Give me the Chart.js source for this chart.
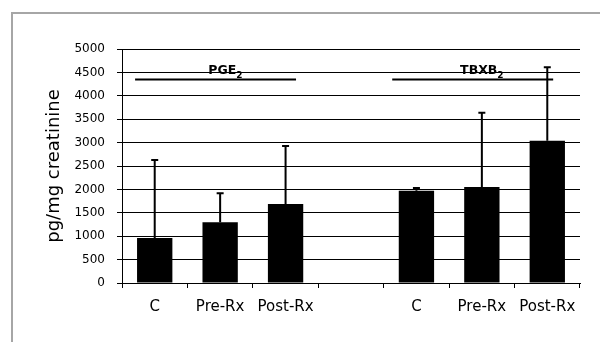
<!DOCTYPE html>
<html><head><meta charset="utf-8">
<script src="https://cdn.jsdelivr.net/npm/chart.js@4/dist/chart.umd.min.js"></script>
<style>
html,body{margin:0;padding:0;background:#fff;width:600px;height:342px;overflow:hidden}
#frame{position:absolute;left:11px;top:12px;width:640px;height:400px;border-left:2px solid #a6a6a6;border-top:2px solid #a6a6a6}
#wrap{position:absolute;left:0;top:0;width:600px;height:342px}
</style></head><body>
<div id="frame"></div>
<div id="wrap"><canvas id="c" width="600" height="342"></canvas></div>
<script>
// ---- data ----
const categories = ['C', 'Pre-Rx', 'Post-Rx', '', 'C', 'Pre-Rx', 'Post-Rx'];
const means      = [960, 1300, 1690, null, 1970, 2050, 3040];
const sdUpper    = [1670, 620, 1240, null, 60, 1590, 1570];
const yMin = 0, yMax = 5000, yStep = 500;
const groupNames = ['PGE', 'TBXB'];
const groupSubs  = ['2', '2'];
const groupLineValue = [4350, 4350];
const groupLineFrom  = [-0.30, 3.63];
const groupLineTo    = [2.16, 6.09];
const groupLabelAt   = [1.08, 5.0];
const groupLabelValue = [4465, 4465];

const FONT = 'DejaVu Sans';

const overlay = {
  id: 'overlay',
  afterDatasetsDraw(chart) {
    const ctx = chart.ctx, xs = chart.scales.x, ys = chart.scales.y;
    const meta = chart.getDatasetMeta(0);
    ctx.save();
    ctx.strokeStyle = '#000';
    ctx.fillStyle = '#000';
    ctx.lineWidth = 2;
    meta.data.forEach((bar, i) => {
      if (means[i] == null) return;
      const top = ys.getPixelForValue(means[i] + sdUpper[i]);
      const base = ys.getPixelForValue(means[i]);
      ctx.beginPath();
      ctx.moveTo(bar.x, base); ctx.lineTo(bar.x, top);
      ctx.moveTo(bar.x - 3.5, top); ctx.lineTo(bar.x + 3.5, top);
      ctx.stroke();
    });
    groupNames.forEach((name, g) => {
      const yy = ys.getPixelForValue(groupLineValue[g]);
      ctx.beginPath();
      ctx.moveTo(xs.getPixelForValue(groupLineFrom[g]), yy);
      ctx.lineTo(xs.getPixelForValue(groupLineTo[g]), yy);
      ctx.stroke();
      const bigFont = 'bold 12.5px "' + FONT + '"';
      const subFont = 'bold 9px "' + FONT + '"';
      ctx.font = bigFont;
      const w1 = ctx.measureText(name).width;
      ctx.font = subFont;
      const w2 = ctx.measureText(groupSubs[g]).width;
      const cx = xs.getPixelForValue(groupLabelAt[g]);
      const by = ys.getPixelForValue(groupLabelValue[g]);
      const x0 = cx - (w1 + w2) / 2;
      ctx.textBaseline = 'alphabetic';
      ctx.textAlign = 'left';
      ctx.font = bigFont;
      ctx.fillText(name, x0, by);
      ctx.font = subFont;
      ctx.fillText(groupSubs[g], x0 + w1, by + 4);
    });
    ctx.restore();
  }
};

new Chart(document.getElementById('c'), {
  type: 'bar',
  data: {
    labels: categories,
    datasets: [{
      data: means,
      backgroundColor: '#000',
      borderWidth: 0,
      categoryPercentage: 1,
      barPercentage: 0.54
    }]
  },
  options: {
    responsive: false,
    animation: false,
    layout: { padding: { top: 49, right: 20, left: 0, bottom: 0 } },
    plugins: { legend: { display: false }, tooltip: { enabled: false } },
    scales: {
      x: {
        offset: true,
        grid: { drawOnChartArea: false, drawTicks: true, tickLength: 5, color: '#000', offset: true },
        border: { color: '#000', width: 1 },
        ticks: { color: '#000', font: { family: FONT, size: 15 }, padding: 10, maxRotation: 0, autoSkip: false },
        afterFit(s) { s.height = 59; }
      },
      y: {
        min: yMin, max: yMax,
        ticks: { stepSize: yStep, color: '#000', font: { family: FONT, size: 12 }, padding: 12,
                 callback: (v) => String(v) },
        grid: { color: '#000', lineWidth: 1, tickLength: 5 },
        border: { color: '#000', width: 1 },
        title: { display: true, text: 'pg/mg creatinine', color: '#000', font: { family: FONT, size: 18 }, padding: { top: 44, bottom: 0 } },
        afterFit(s) { s.width = 122; }
      }
    }
  },
  plugins: [overlay]
});
</script>
</body></html>
